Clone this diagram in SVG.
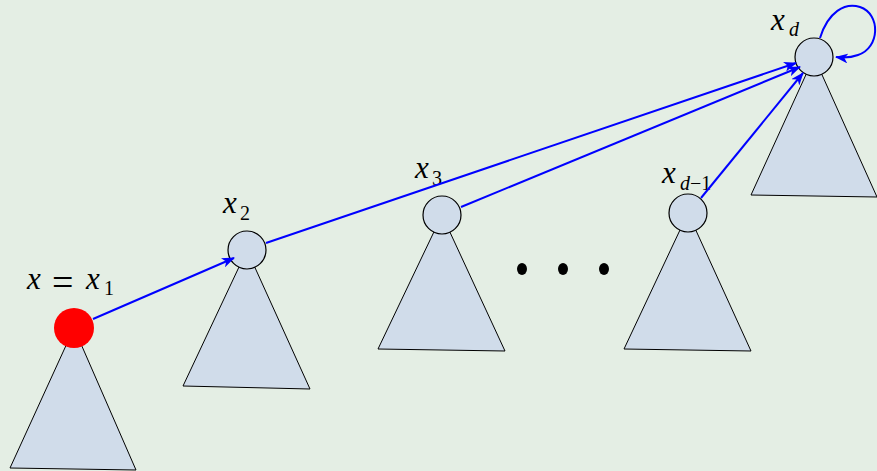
<svg xmlns="http://www.w3.org/2000/svg" width="877" height="471" viewBox="0 0 877 471">
<defs>
<marker id="ah" viewBox="0 0 13 10" refX="12" refY="5" markerWidth="13" markerHeight="10" markerUnits="userSpaceOnUse" orient="auto">
<path d="M0,0 L13,5 L0,10 L3.5,5 Z" fill="#0000ff"/>
</marker>
<style>
.tri{fill:#d0dcea;stroke:#000;stroke-width:1}
.nd{fill:#d0dcea;stroke:#000;stroke-width:1.2}
.e{fill:none;stroke:#0000ff;stroke-width:2;marker-end:url(#ah)}
.lb{font-family:'Liberation Serif','DejaVu Serif',serif;font-style:italic;font-size:31px;fill:#000}
.eq{font-family:'Liberation Serif','DejaVu Serif',serif;font-size:38px;fill:#000}
.sb{font-family:'Liberation Serif','DejaVu Serif',serif;font-size:20px;fill:#000}
.sbi{font-family:'Liberation Serif','DejaVu Serif',serif;font-style:italic;font-size:20px;fill:#000}
</style>
</defs>
<rect width="877" height="471" fill="#e4eee4"/>
<g id="n1">
<path class="tri" d="M74,328 L10,468 L136,470 Z"/>
<circle cx="74" cy="328" r="20" fill="#ff0000"/>
<text class="lb" y="289"><tspan x="27">x</tspan><tspan x="86">x</tspan></text><text class="eq" x="52" y="295">=</text><text class="sb" x="104" y="295">1</text>
</g>
<g id="n2">
<path class="tri" d="M247,250 L183,386 L310,389 Z"/>
<circle class="nd" cx="247" cy="250" r="19"/>
<text class="lb" x="223" y="213">x</text><text class="sb" x="240" y="220">2</text>
</g>
<g id="n3">
<path class="tri" d="M442,215 L378,349 L505,351 Z"/>
<circle class="nd" cx="442" cy="215" r="19"/>
<text class="lb" x="415" y="178">x</text><text class="sb" x="432" y="185">3</text>
</g>
<g id="dots">
<ellipse cx="522" cy="269" rx="5" ry="6" fill="#000"/>
<ellipse cx="563" cy="269" rx="5" ry="6" fill="#000"/>
<ellipse cx="604" cy="269" rx="5" ry="6" fill="#000"/>
</g>
<g id="nd1">
<path class="tri" d="M688,213 L624,349 L751,351 Z"/>
<circle class="nd" cx="688" cy="213" r="19"/>
<text class="lb" x="662" y="183">x</text><text class="sbi" x="680" y="190">d<tspan font-style="normal">−1</tspan></text>
</g>
<g id="nd">
<path class="tri" d="M814,57 L751,195 L877,197 Z"/>
<circle class="nd" cx="814" cy="57" r="19"/>
<text class="lb" x="771" y="30">x</text><text class="sbi" x="789" y="36">d</text>
</g>
<g id="edges">
<path class="e" d="M93,319 L234,258"/>
<path class="e" d="M266,243 L796,63"/>
<path class="e" d="M461,207 L800,67"/>
<path class="e" d="M701,198 L803,73"/>
<path class="e" d="M820,38 C828,12 845,2 860,7 C881,14 880,48 858,55 C850,58 844,58 836,57"/>
</g>
</svg>
